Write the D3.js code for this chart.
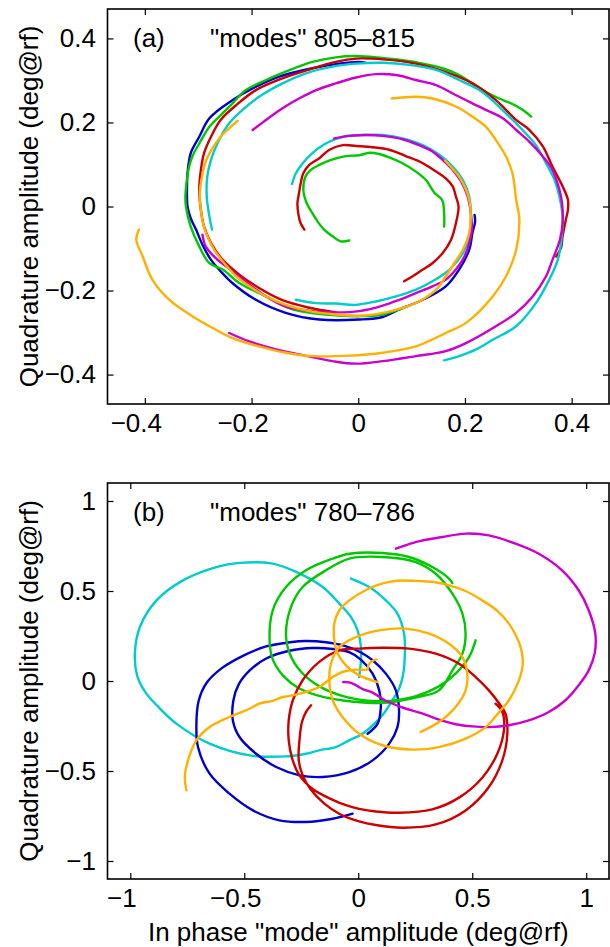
<!DOCTYPE html>
<html>
<head>
<meta charset="utf-8">
<script src="https://d3js.org/d3.v7.min.js"></script>
<style>
body { margin: 0; background: #fff; }
text { font-family: "Liberation Sans", Arial, sans-serif; }
</style>
</head>
<body>
<div id="chart"></div>
<script>
// tick values
var aTicks = [-0.4, -0.2, 0, 0.2, 0.4];
var bTicks = [-1, -0.5, 0, 0.5, 1];

// panel (a) "modes" 805-815, [in phase, quadrature] in deg@rf
var aBlue = [[0.013,0.342],[0.002,0.344],[-0.036,0.340],[-0.086,0.329],[-0.148,0.309],[-0.198,0.281],[-0.236,0.253],[-0.279,0.210],[-0.298,0.166],[-0.314,0.127],[-0.320,0.079],[-0.321,0.040],[-0.320,0.000],[-0.314,-0.028],[-0.304,-0.055],[-0.292,-0.091],[-0.276,-0.127],[-0.258,-0.154],[-0.236,-0.182],[-0.192,-0.222],[-0.136,-0.253],[-0.073,-0.269],[0.002,-0.269],[0.046,-0.263],[0.077,-0.245],[0.121,-0.222],[0.164,-0.190],[0.189,-0.150],[0.208,-0.103],[0.214,-0.063],[0.219,-0.036],[0.218,-0.020]];
var aGreenIn = [[-0.017,-0.081],[-0.033,-0.083],[-0.048,-0.071],[-0.064,-0.055],[-0.076,-0.036],[-0.086,-0.016],[-0.098,0.012],[-0.103,0.040],[-0.099,0.071],[-0.089,0.087],[-0.073,0.099],[-0.051,0.111],[-0.023,0.120],[0.002,0.122],[0.021,0.128],[0.039,0.125],[0.058,0.117],[0.083,0.103],[0.108,0.083],[0.127,0.063],[0.143,0.032],[0.157,0.016],[0.161,-0.016],[0.161,-0.048]];
var aGreenOut = [[0.324,0.214],[0.308,0.230],[0.289,0.244],[0.264,0.257],[0.239,0.273],[0.214,0.293],[0.189,0.313],[0.158,0.329],[0.121,0.340],[0.083,0.348],[0.046,0.353],[-0.004,0.358],[-0.042,0.355],[-0.086,0.344],[-0.136,0.321],[-0.173,0.301],[-0.211,0.277],[-0.236,0.245],[-0.254,0.222],[-0.279,0.190],[-0.298,0.150],[-0.311,0.119],[-0.317,0.095],[-0.322,0.055],[-0.324,0.024],[-0.323,0.000],[-0.314,-0.048],[-0.298,-0.095],[-0.279,-0.135],[-0.254,-0.150],[-0.223,-0.182],[-0.173,-0.214],[-0.123,-0.245],[-0.061,-0.257],[0.002,-0.261],[0.046,-0.257],[0.089,-0.239]];
var aRedIn = [[-0.101,-0.055],[-0.108,-0.040],[-0.112,-0.020],[-0.114,0.008],[-0.111,0.032],[-0.108,0.055],[-0.103,0.079],[-0.092,0.099],[-0.073,0.115],[-0.054,0.135],[-0.029,0.146],[-0.004,0.144],[0.027,0.141],[0.058,0.135],[0.089,0.120],[0.121,0.103],[0.146,0.083],[0.164,0.067],[0.177,0.048],[0.183,0.024],[0.188,0.000],[0.183,-0.040],[0.174,-0.079],[0.158,-0.111],[0.139,-0.135],[0.121,-0.150],[0.102,-0.166],[0.086,-0.178]];
var aRedOut = [[-0.042,-0.252],[-0.092,-0.241],[-0.142,-0.223],[-0.186,-0.194],[-0.223,-0.162],[-0.254,-0.127],[-0.276,-0.087],[-0.289,-0.048],[-0.295,-0.008],[-0.298,0.040],[-0.295,0.087],[-0.289,0.127],[-0.276,0.166],[-0.258,0.206],[-0.229,0.241],[-0.192,0.277],[-0.142,0.305],[-0.092,0.326],[-0.042,0.344],[-0.004,0.352],[0.046,0.350],[0.108,0.340],[0.171,0.317],[0.214,0.293],[0.258,0.253],[0.296,0.206],[0.321,0.182],[0.346,0.143],[0.364,0.095],[0.383,0.048],[0.393,0.016],[0.393,-0.008],[0.389,-0.032],[0.383,-0.071],[0.380,-0.099],[0.371,-0.119]];
var aCyanOut = [[-0.274,-0.055],[-0.279,-0.024],[-0.284,0.024],[-0.283,0.071],[-0.276,0.111],[-0.264,0.150],[-0.242,0.198],[-0.217,0.230],[-0.186,0.261],[-0.142,0.293],[-0.098,0.317],[-0.048,0.333],[-0.004,0.340],[0.046,0.342],[0.096,0.337],[0.146,0.325],[0.189,0.301],[0.227,0.277],[0.258,0.245],[0.283,0.214],[0.308,0.182],[0.333,0.146],[0.352,0.103],[0.368,0.063],[0.377,0.024],[0.383,-0.024],[0.380,-0.087],[0.374,-0.127],[0.358,-0.174],[0.333,-0.230],[0.296,-0.285],[0.252,-0.317],[0.221,-0.340],[0.189,-0.356],[0.161,-0.366]];
var aCyanIn = [[-0.117,-0.222],[-0.079,-0.230],[-0.042,-0.231],[-0.004,-0.234],[0.033,-0.226],[0.071,-0.214],[0.108,-0.198],[0.139,-0.178],[0.171,-0.150],[0.196,-0.111],[0.208,-0.071],[0.211,-0.024],[0.208,0.024],[0.196,0.063],[0.177,0.095],[0.152,0.123],[0.121,0.146],[0.083,0.162],[0.046,0.170],[0.008,0.170],[-0.029,0.166],[-0.061,0.150],[-0.086,0.127],[-0.104,0.103],[-0.117,0.079],[-0.124,0.054]];
var aMagOut = [[-0.198,0.182],[-0.173,0.206],[-0.142,0.234],[-0.111,0.257],[-0.079,0.277],[-0.042,0.293],[-0.004,0.307],[0.033,0.315],[0.071,0.313],[0.108,0.301],[0.146,0.289],[0.177,0.269],[0.208,0.249],[0.239,0.230],[0.271,0.210],[0.296,0.182],[0.321,0.154],[0.346,0.119],[0.364,0.087],[0.377,0.040],[0.382,0.008],[0.383,-0.040],[0.378,-0.079],[0.364,-0.127],[0.352,-0.166],[0.327,-0.214],[0.296,-0.253],[0.258,-0.285],[0.202,-0.325],[0.164,-0.344],[0.108,-0.356],[0.046,-0.368],[-0.004,-0.374],[-0.048,-0.368],[-0.111,-0.352],[-0.154,-0.340],[-0.204,-0.321],[-0.242,-0.301]];
var aMagIn = [[-0.045,0.162],[-0.017,0.168],[0.014,0.170],[0.046,0.168],[0.083,0.160],[0.114,0.146],[0.139,0.131],[0.158,0.111],[0.177,0.087],[0.193,0.059],[0.205,0.024],[0.211,-0.016],[0.213,-0.055],[0.208,-0.087],[0.199,-0.119],[0.183,-0.150],[0.164,-0.174],[0.139,-0.190],[0.108,-0.206],[0.077,-0.222],[0.046,-0.236],[0.002,-0.249],[-0.042,-0.252],[-0.086,-0.249],[-0.136,-0.238],[-0.173,-0.214],[-0.204,-0.186],[-0.236,-0.154],[-0.267,-0.123],[-0.286,-0.095],[-0.292,-0.067]];
var aOrangeIn = [[-0.226,0.204],[-0.242,0.186],[-0.258,0.166],[-0.273,0.139],[-0.286,0.107],[-0.293,0.071],[-0.297,0.032],[-0.295,-0.008],[-0.291,-0.040],[-0.283,-0.071],[-0.270,-0.103],[-0.251,-0.135],[-0.229,-0.166],[-0.204,-0.190],[-0.173,-0.214],[-0.136,-0.234],[-0.092,-0.249],[-0.042,-0.257],[0.002,-0.260],[0.046,-0.253],[0.083,-0.241],[0.114,-0.226],[0.146,-0.198],[0.164,-0.166],[0.180,-0.135],[0.196,-0.103],[0.208,-0.063],[0.211,-0.024],[0.208,0.016],[0.202,0.040],[0.189,0.071],[0.173,0.095],[0.163,0.109]];
var aOrangeOut = [[0.063,0.257],[0.108,0.261],[0.139,0.257],[0.183,0.238],[0.214,0.214],[0.239,0.190],[0.258,0.158],[0.277,0.119],[0.289,0.079],[0.296,0.016],[0.302,-0.032],[0.296,-0.103],[0.277,-0.166],[0.252,-0.214],[0.202,-0.277],[0.164,-0.301],[0.108,-0.333],[0.046,-0.348],[-0.017,-0.355],[-0.086,-0.356],[-0.136,-0.348],[-0.186,-0.333],[-0.236,-0.313],[-0.273,-0.289],[-0.311,-0.261],[-0.354,-0.222],[-0.386,-0.174],[-0.404,-0.119],[-0.416,-0.079],[-0.411,-0.055]];

// panel (b) "modes" 780-786
var bCyan = [[0.004,0.022],[0.012,0.115],[0.012,0.189],[-0.003,0.281],[-0.032,0.356],[-0.083,0.430],[-0.156,0.522],[-0.273,0.606],[-0.375,0.652],[-0.521,0.656],[-0.623,0.633],[-0.769,0.559],[-0.885,0.448],[-0.958,0.300],[-0.980,0.152],[-0.970,0.030],[-0.935,-0.060],[-0.880,-0.140],[-0.798,-0.237],[-0.652,-0.348],[-0.477,-0.413],[-0.317,-0.419],[-0.229,-0.404],[-0.171,-0.385],[-0.098,-0.367],[-0.040,-0.330],[0.019,-0.293],[0.060,-0.250],[0.106,-0.190],[0.150,-0.107],[0.180,-0.040],[0.196,0.030],[0.204,0.133],[0.201,0.263],[0.172,0.374],[0.121,0.448],[0.048,0.522],[-0.032,0.569]];
var bBlue = [[-0.025,-0.737],[-0.112,-0.765],[-0.229,-0.783],[-0.346,-0.774],[-0.462,-0.719],[-0.565,-0.626],[-0.652,-0.515],[-0.703,-0.367],[-0.710,-0.237],[-0.700,-0.110],[-0.665,-0.010],[-0.600,0.070],[-0.506,0.140],[-0.404,0.192],[-0.300,0.215],[-0.229,0.222],[-0.142,0.215],[-0.060,0.195],[0.010,0.160],[0.063,0.115],[0.121,0.041],[0.165,-0.052],[0.179,-0.163],[0.172,-0.256],[0.136,-0.348],[0.063,-0.441],[-0.039,-0.506],[-0.156,-0.533],[-0.258,-0.524],[-0.360,-0.478],[-0.448,-0.404],[-0.521,-0.311],[-0.550,-0.219],[-0.548,-0.110],[-0.525,-0.020],[-0.475,0.060],[-0.404,0.125],[-0.302,0.168],[-0.200,0.183],[-0.112,0.178],[-0.040,0.160],[0.010,0.120],[0.063,0.041],[0.092,-0.052],[0.099,-0.144],[0.085,-0.237],[0.041,-0.293]];
var bGreen = [[0.413,0.544],[0.398,0.569],[0.325,0.633],[0.223,0.689],[0.106,0.711],[-0.039,0.707],[-0.112,0.680],[-0.229,0.615],[-0.317,0.522],[-0.375,0.393],[-0.389,0.226],[-0.375,0.120],[-0.330,0.030],[-0.260,-0.040],[-0.150,-0.090],[-0.020,-0.115],[0.130,-0.120],[0.260,-0.090],[0.354,-0.052],[0.413,0.059],[0.457,0.152],[0.471,0.263],[0.457,0.374],[0.413,0.485],[0.340,0.596],[0.252,0.661],[0.106,0.689],[-0.039,0.680],[-0.142,0.615],[-0.244,0.522],[-0.295,0.411],[-0.317,0.263],[-0.300,0.150],[-0.250,0.050],[-0.170,-0.030],[-0.050,-0.090],[0.100,-0.112],[0.250,-0.085],[0.354,-0.030],[0.427,0.041],[0.486,0.133],[0.515,0.226]];
var bRed = [[-0.207,-0.135],[-0.229,-0.172],[-0.247,-0.228],[-0.258,-0.330],[-0.261,-0.441],[-0.245,-0.520],[-0.210,-0.600],[-0.150,-0.680],[-0.080,-0.740],[0.004,-0.780],[0.077,-0.800],[0.194,-0.815],[0.340,-0.797],[0.471,-0.719],[0.573,-0.589],[0.632,-0.441],[0.654,-0.293],[0.646,-0.181],[0.624,-0.135],[0.573,-0.052],[0.515,0.022],[0.442,0.096],[0.340,0.152],[0.223,0.180],[0.106,0.185],[0.004,0.180],[-0.083,0.170],[-0.171,0.106],[-0.244,0.004],[-0.287,-0.107],[-0.305,-0.219],[-0.305,-0.330],[-0.290,-0.430],[-0.260,-0.520],[-0.200,-0.600],[-0.112,-0.660],[-0.054,-0.690],[0.004,-0.710],[0.077,-0.725],[0.179,-0.732],[0.325,-0.713],[0.442,-0.648],[0.544,-0.537],[0.610,-0.404],[0.639,-0.274],[0.635,-0.181],[0.617,-0.144],[0.602,-0.126]];
var bMagenta = [[-0.066,-0.006],[-0.040,-0.008],[-0.015,-0.020],[0.020,-0.045],[0.063,-0.065],[0.121,-0.110],[0.200,-0.150],[0.280,-0.180],[0.354,-0.215],[0.427,-0.240],[0.500,-0.252],[0.573,-0.256],[0.661,-0.246],[0.748,-0.219],[0.836,-0.172],[0.909,-0.107],[0.967,-0.024],[1.011,0.059],[1.037,0.152],[1.040,0.263],[1.011,0.393],[0.967,0.504],[0.894,0.615],[0.792,0.707],[0.690,0.763],[0.573,0.809],[0.471,0.819],[0.369,0.800],[0.252,0.772],[0.165,0.735]];
var bOrangeTail = [[-0.754,-0.607],[-0.761,-0.533],[-0.747,-0.441],[-0.710,-0.330],[-0.652,-0.256],[-0.565,-0.200],[-0.477,-0.154],[-0.433,-0.125],[-0.375,-0.110],[-0.331,-0.089],[-0.287,-0.080],[-0.229,-0.061],[-0.171,-0.033],[-0.112,0.022],[-0.069,0.050],[-0.010,0.063],[0.041,0.065],[0.045,0.090],[0.060,0.110],[0.080,0.120]];
var bOrange = [[0.274,-0.283],[0.354,-0.228],[0.427,-0.144],[0.471,-0.052],[0.478,0.041],[0.457,0.133],[0.398,0.207],[0.311,0.263],[0.209,0.291],[0.092,0.281],[-0.010,0.244],[-0.083,0.189],[-0.120,0.096],[-0.127,0.004],[-0.112,-0.107],[-0.069,-0.200],[0.004,-0.293],[0.106,-0.357],[0.238,-0.381],[0.354,-0.367],[0.471,-0.320],[0.559,-0.256],[0.620,-0.170],[0.661,-0.107],[0.705,0.004],[0.722,0.100],[0.712,0.189],[0.661,0.319],[0.610,0.390],[0.544,0.448],[0.470,0.500],[0.398,0.531],[0.330,0.550],[0.252,0.556],[0.170,0.557],[0.100,0.540],[0.040,0.510],[-0.039,0.448],[-0.083,0.393],[-0.105,0.319],[-0.105,0.226],[-0.090,0.152],[-0.054,0.087],[0.004,0.031],[0.085,-0.006]];

var blue = "#0000cc", green = "#00c800", red = "#cc0000",
    cyan = "#00cccc", magenta = "#cc00cc", orange = "#ffb000";

var panels = [
    {
        top: 9, bottom: 404, dom: [-0.47, 0.47], ticks: aTicks,
        label: "(a)", title: "\"modes\" 805\u2013815", textY: 47,
        series: [
            {color: blue, segs: [aBlue]},
            {color: green, segs: [aGreenIn, aGreenOut]},
            {color: red, segs: [aRedIn, aRedOut]},
            {color: cyan, segs: [aCyanOut, aCyanIn]},
            {color: magenta, segs: [aMagOut, aMagIn]},
            {color: orange, segs: [aOrangeIn, aOrangeOut]}
        ]
    },
    {
        top: 483, bottom: 879, dom: [-1.1, 1.1], ticks: bTicks,
        label: "(b)", title: "\"modes\" 780\u2013786", textY: 521,
        series: [
            {color: cyan, segs: [bCyan]},
            {color: blue, segs: [bBlue]},
            {color: green, segs: [bGreen]},
            {color: red, segs: [bRed]},
            {color: magenta, segs: [bMagenta]},
            {color: orange, segs: [bOrangeTail, bOrange]}
        ]
    }
];

var left = 107.5, right = 609;
var svg = d3.select("#chart").append("svg")
    .attr("width", 610)
    .attr("height", 947);

function fmt(d) { return d < 0 ? "\u2212" + Math.abs(d) : String(d); }

panels.forEach(function(p) {
    var x = d3.scaleLinear().domain(p.dom).range([left, right]);
    var y = d3.scaleLinear().domain(p.dom).range([p.bottom, p.top]);
    var g = svg.append("g");

    var line = d3.line()
        .x(function(d) { return x(d[0]); })
        .y(function(d) { return y(d[1]); })
        .curve(d3.curveCatmullRom.alpha(0.5));

    p.series.forEach(function(s) {
        s.segs.forEach(function(seg) {
            g.append("path")
                .attr("d", line(seg))
                .attr("fill", "none")
                .attr("stroke", s.color)
                .attr("stroke-width", 2.4)
                .attr("stroke-linejoin", "round")
                .attr("stroke-linecap", "round");
        });
    });

    // axes, ticks pointing inward on all four sides
    var xb = g.append("g").attr("transform", "translate(0," + p.bottom + ")")
        .call(d3.axisBottom(x).tickValues(p.ticks).tickFormat(fmt)
            .tickSizeInner(-6).tickSizeOuter(0).tickPadding(10));
    xb.selectAll("text").attr("dx", function(d) { return d < 0 ? -9 : 0; });
    g.append("g").attr("transform", "translate(0," + p.top + ")")
        .call(d3.axisTop(x).tickValues(p.ticks).tickFormat("")
            .tickSizeInner(-6).tickSizeOuter(0));
    g.append("g").attr("transform", "translate(" + left + ",0)")
        .call(d3.axisLeft(y).tickValues(p.ticks).tickFormat(fmt)
            .tickSizeInner(-6).tickSizeOuter(0).tickPadding(11.5));
    g.append("g").attr("transform", "translate(" + right + ",0)")
        .call(d3.axisRight(y).tickValues(p.ticks).tickFormat("")
            .tickSizeInner(-6).tickSizeOuter(0));

    g.selectAll(".domain").remove();
    g.selectAll(".tick line").attr("stroke", "#000").attr("stroke-width", 1.2);
    g.selectAll(".tick text")
        .attr("fill", "#000")
        .style("font-size", "26px")
        .style("font-family", "'Liberation Sans', Arial, sans-serif");

    g.append("rect")
        .attr("x", left).attr("y", p.top)
        .attr("width", right - left).attr("height", p.bottom - p.top)
        .attr("fill", "none").attr("stroke", "#000").attr("stroke-width", 1.6);

    g.append("text").attr("x", 133).attr("y", p.textY)
        .style("font-size", "26px").text(p.label);
    g.append("text").attr("x", 210).attr("y", p.textY)
        .style("font-size", "26px").text(p.title);

    svg.append("text")
        .attr("transform", "translate(38," + ((p.top + p.bottom) / 2) + ") rotate(-90)")
        .attr("text-anchor", "middle")
        .style("font-size", "26px")
        .text("Quadrature amplitude (deg@rf)");
});

svg.append("text")
    .attr("x", (left + right) / 2)
    .attr("y", 941)
    .attr("text-anchor", "middle")
    .style("font-size", "26px")
    .text("In phase \"mode\" amplitude (deg@rf)");
</script>
</body>
</html>
